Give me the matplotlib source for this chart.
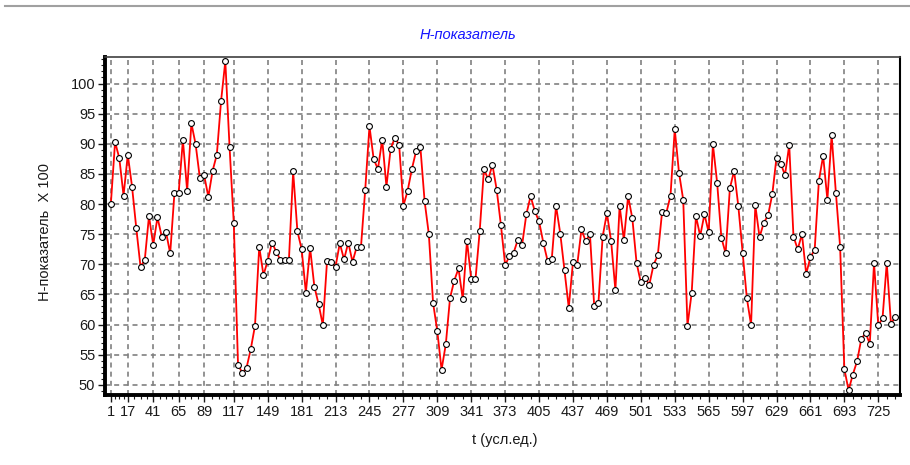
import numpy as np
import matplotlib
matplotlib.use("Agg")
from matplotlib import pyplot as plt
from matplotlib.lines import Line2D

plt.rcParams['font.family'] = ['Liberation Sans', 'DejaVu Sans']

# t axis: one point every 4 units, 1 .. 741
t = np.arange(1, 745, 4)

# H-index x 100
h = [80.0, 90.3, 87.6, 81.4, 88.2, 82.9, 76.0, 69.6, 70.7, 78.0,
     73.2, 77.8, 74.6, 75.4, 71.8, 81.8, 81.9, 90.6, 82.2, 93.4,
     89.9, 84.3, 84.8, 81.2, 85.5, 88.2, 97.1, 103.7, 89.5, 76.8,
     53.3, 52.0, 52.8, 55.9, 59.8, 72.9, 68.2, 70.6, 73.6, 72.1,
     70.7, 70.7, 70.7, 85.4, 75.5, 72.5, 65.3, 72.7, 66.3, 63.4,
     59.9, 70.6, 70.4, 69.6, 73.5, 70.8, 73.6, 70.4, 72.9, 72.9,
     82.4, 92.9, 87.4, 85.8, 90.7, 82.9, 89.2, 91.0, 89.8, 79.7,
     82.2, 85.8, 88.8, 89.5, 80.5, 75.0, 63.6, 58.9, 52.5, 56.7,
     64.4, 67.3, 69.3, 64.2, 73.9, 67.5, 67.5, 75.5, 85.8, 84.1,
     86.5, 82.4, 76.5, 69.9, 71.3, 71.9, 74.1, 73.2, 78.3, 81.3,
     78.8, 77.1, 73.6, 70.6, 70.9, 79.7, 75.1, 69.0, 62.8, 70.4,
     69.9, 75.8, 73.8, 75.0, 63.1, 63.6, 74.6, 78.5, 73.8, 65.7,
     79.7, 74.0, 81.3, 77.6, 70.2, 67.0, 67.8, 66.6, 69.9, 71.5,
     78.6, 78.5, 81.4, 92.4, 85.2, 80.7, 59.8, 65.3, 78.0, 74.7,
     78.3, 75.3, 89.9, 83.5, 74.4, 71.8, 82.6, 85.5, 79.6, 71.9,
     64.4, 59.9, 79.8, 74.5, 76.9, 78.1, 81.6, 87.7, 86.7, 84.8,
     89.8, 74.6, 72.5, 75.0, 68.4, 71.2, 72.4, 83.9, 88.0, 80.7,
     91.4, 81.9, 72.9, 52.6, 49.1, 51.7, 53.9, 57.6, 58.6, 56.8,
     70.2, 59.9, 61.0, 70.2, 60.1, 61.3]

xticks = [1, 17, 41, 65, 89, 117, 149, 181, 213, 245, 277, 309, 341,
          373, 405, 437, 469, 501, 533, 565, 597, 629, 661, 693, 725]
yticks = [50, 55, 60, 65, 70, 75, 80, 85, 90, 95, 100]

W, H = 910, 465
fig = plt.figure(figsize=(W / 100, H / 100), dpi=100)
ax = fig.add_axes([105 / W, 1 - 395 / H, 795 / W, 338 / H])

ax.plot(t, h, color='#ff0000', lw=1.3, marker='o', ms=4.2,
        mfc='white', mec='black', mew=0.8, zorder=3)

ax.set_xlim(-4.5, 745.5)
ax.set_ylim(48.3, 104.4)

ax.set_xticks(xticks)
minor_x = []
for a, b in zip(xticks[:-1], xticks[1:]):
    minor_x += list(np.linspace(a, b, 5)[1:-1])
minor_x += [733, 741]
ax.set_xticks(minor_x, minor=True)
ax.set_yticks(yticks)
ax.set_yticks(np.arange(49, 105, 1), minor=True)

ax.tick_params(axis='both', which='major', direction='out', length=5,
               width=1, labelsize=10.5, colors='#1a1a1a', pad=2)
ax.tick_params(axis='both', which='minor', direction='out', length=3,
               width=0.8, colors='#1a1a1a')

ax.grid(True, which='major', color='#808080', lw=1.2, ls=(0, (3, 2.5)))
ax.set_axisbelow(True)

ax.spines['left'].set_linewidth(2.8)
ax.spines['bottom'].set_linewidth(2.8)
ax.spines['top'].set_linewidth(1.2)
ax.spines['top'].set_color('#404040')
ax.spines['right'].set_linewidth(1.5)

fig.text(468 / W, 1 - 35 / H, 'H-показатель', color='#1515ff',
         fontsize=10.5, style='italic', ha='center', va='center')
fig.text(45 / W, 1 - 232 / H, 'H-показатель  X 100', rotation=90,
         fontsize=10.5, color='#1a1a1a', ha='center', va='center')
fig.text(505 / W, 1 - 440 / H, 't (усл.ед.)', fontsize=10.5,
         color='#1a1a1a', ha='center', va='center')

# separator line across the top
fig.add_artist(Line2D([5 / W, 1], [1 - 6 / H, 1 - 6 / H], color='#a0a0a0',
                      lw=1.5, transform=fig.transFigure))

fig.savefig('out.png', dpi=100)
